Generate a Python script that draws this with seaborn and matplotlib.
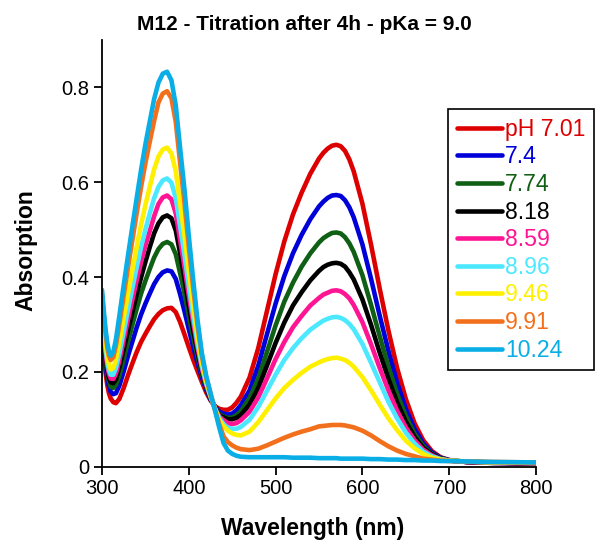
import matplotlib
matplotlib.use("Agg")
import matplotlib.pyplot as plt
import seaborn as sns
import pandas as pd

wavelength = [300, 302, 304, 306, 308, 310, 313, 316,
              320, 325, 330, 335, 340, 345, 350, 355, 360, 365,
              370, 375, 380, 385, 390, 395, 400, 405, 410, 415,
              420, 425, 430, 435, 440, 445, 450, 455, 460,
              470, 480, 490, 500, 510, 520, 530, 540, 550,
              555, 560, 565, 570, 575, 580, 585, 590,
              600, 610, 620, 630, 640, 650, 660, 670, 680, 690, 700,
              720, 750, 800]

ph_701 = [0.280, 0.235, 0.200, 0.173, 0.155, 0.144, 0.136, 0.134,
          0.143, 0.166, 0.193, 0.218, 0.242, 0.263, 0.280, 0.296, 0.311, 0.322,
          0.330, 0.334, 0.335, 0.326, 0.305, 0.279, 0.252, 0.226, 0.202, 0.179,
          0.157, 0.140, 0.128, 0.122, 0.120, 0.120, 0.125, 0.135, 0.148,
          0.188, 0.250, 0.328, 0.406, 0.475, 0.532, 0.578, 0.618, 0.650,
          0.662, 0.671, 0.677, 0.679, 0.676, 0.666, 0.648, 0.623,
          0.555, 0.468, 0.375, 0.287, 0.208, 0.143, 0.092, 0.056, 0.033, 0.020, 0.014,
          0.010, 0.008, 0.006]
ph_74 = [0.295, 0.250, 0.215, 0.187, 0.169, 0.158, 0.153, 0.155,
         0.171, 0.201, 0.234, 0.264, 0.294, 0.321, 0.344, 0.365, 0.385, 0.400,
         0.410, 0.414, 0.412, 0.396, 0.364, 0.328, 0.290, 0.253, 0.219, 0.189,
         0.163, 0.142, 0.127, 0.116, 0.112, 0.110, 0.112, 0.119, 0.130,
         0.161, 0.213, 0.279, 0.344, 0.402, 0.450, 0.489, 0.522, 0.549,
         0.559, 0.567, 0.572, 0.573, 0.571, 0.562, 0.547, 0.526,
         0.469, 0.396, 0.318, 0.244, 0.177, 0.122, 0.080, 0.049, 0.030, 0.019, 0.014,
         0.010, 0.008, 0.007]
ph_774 = [0.306, 0.262, 0.226, 0.198, 0.180, 0.169, 0.166, 0.172,
          0.192, 0.227, 0.264, 0.299, 0.333, 0.365, 0.392, 0.417, 0.441, 0.459,
          0.470, 0.474, 0.469, 0.448, 0.408, 0.365, 0.318, 0.273, 0.232, 0.196,
          0.167, 0.144, 0.126, 0.111, 0.106, 0.103, 0.104, 0.109, 0.117,
          0.145, 0.186, 0.242, 0.298, 0.348, 0.388, 0.422, 0.450, 0.473,
          0.482, 0.488, 0.493, 0.494, 0.492, 0.484, 0.471, 0.453,
          0.404, 0.341, 0.275, 0.211, 0.154, 0.107, 0.070, 0.044, 0.027, 0.018, 0.013,
          0.010, 0.009, 0.007]
ph_818 = [0.315, 0.271, 0.235, 0.206, 0.188, 0.178, 0.176, 0.184,
          0.209, 0.247, 0.288, 0.326, 0.364, 0.399, 0.432, 0.463, 0.492, 0.513,
          0.526, 0.530, 0.524, 0.498, 0.450, 0.398, 0.340, 0.289, 0.243, 0.202,
          0.170, 0.146, 0.125, 0.108, 0.104, 0.100, 0.100, 0.103, 0.109,
          0.131, 0.166, 0.213, 0.261, 0.304, 0.340, 0.368, 0.393, 0.413,
          0.421, 0.426, 0.429, 0.430, 0.428, 0.422, 0.410, 0.395,
          0.353, 0.299, 0.240, 0.185, 0.136, 0.095, 0.063, 0.040, 0.026, 0.017, 0.013,
          0.010, 0.009, 0.007]
ph_859 = [0.323, 0.279, 0.243, 0.214, 0.196, 0.186, 0.185, 0.196,
          0.224, 0.267, 0.311, 0.352, 0.393, 0.432, 0.466, 0.497, 0.528, 0.554,
          0.568, 0.572, 0.564, 0.534, 0.478, 0.421, 0.361, 0.305, 0.252, 0.207,
          0.173, 0.147, 0.124, 0.106, 0.098, 0.092, 0.090, 0.092, 0.098,
          0.116, 0.146, 0.186, 0.227, 0.263, 0.294, 0.318, 0.340, 0.356,
          0.363, 0.367, 0.371, 0.372, 0.370, 0.364, 0.355, 0.341,
          0.305, 0.258, 0.208, 0.161, 0.118, 0.083, 0.056, 0.036, 0.024, 0.016, 0.013,
          0.010, 0.009, 0.007]
ph_896 = [0.331, 0.287, 0.251, 0.222, 0.203, 0.194, 0.194, 0.208,
          0.239, 0.285, 0.332, 0.377, 0.421, 0.463, 0.500, 0.534, 0.566, 0.590,
          0.604, 0.608, 0.599, 0.566, 0.507, 0.447, 0.381, 0.319, 0.261, 0.213,
          0.176, 0.148, 0.124, 0.103, 0.090, 0.082, 0.080, 0.080, 0.084,
          0.099, 0.126, 0.160, 0.194, 0.225, 0.250, 0.271, 0.289, 0.302,
          0.308, 0.312, 0.315, 0.316, 0.314, 0.309, 0.301, 0.290,
          0.259, 0.219, 0.178, 0.137, 0.102, 0.072, 0.049, 0.032, 0.022, 0.016, 0.013,
          0.011, 0.009, 0.008]
ph_946 = [0.343, 0.300, 0.263, 0.234, 0.215, 0.205, 0.208, 0.225,
          0.262, 0.314, 0.365, 0.415, 0.463, 0.510, 0.552, 0.590, 0.627, 0.654,
          0.669, 0.673, 0.661, 0.623, 0.555, 0.487, 0.412, 0.341, 0.275, 0.221,
          0.181, 0.150, 0.123, 0.098, 0.085, 0.076, 0.070, 0.067, 0.066,
          0.074, 0.094, 0.119, 0.144, 0.166, 0.183, 0.198, 0.211, 0.220,
          0.224, 0.227, 0.229, 0.230, 0.228, 0.225, 0.219, 0.211,
          0.189, 0.161, 0.131, 0.102, 0.077, 0.055, 0.039, 0.027, 0.019, 0.015, 0.013,
          0.011, 0.009, 0.008]
ph_991 = [0.364, 0.321, 0.283, 0.253, 0.234, 0.225, 0.231, 0.255,
          0.301, 0.361, 0.421, 0.478, 0.535, 0.590, 0.640, 0.685, 0.729, 0.768,
          0.787, 0.792, 0.777, 0.727, 0.640, 0.556, 0.464, 0.378, 0.299, 0.234,
          0.189, 0.154, 0.121, 0.090, 0.064, 0.052, 0.045, 0.040, 0.037,
          0.035, 0.038, 0.045, 0.053, 0.061, 0.068, 0.074, 0.079, 0.085,
          0.086, 0.087, 0.088, 0.088, 0.088, 0.087, 0.085, 0.083,
          0.076, 0.066, 0.054, 0.043, 0.034, 0.027, 0.022, 0.017, 0.015, 0.013, 0.012,
          0.011, 0.010, 0.009]
ph_1024 = [0.373, 0.330, 0.292, 0.262, 0.243, 0.234, 0.242, 0.268,
           0.318, 0.383, 0.446, 0.507, 0.567, 0.626, 0.680, 0.728, 0.775, 0.810,
           0.829, 0.833, 0.815, 0.762, 0.672, 0.585, 0.487, 0.395, 0.310, 0.240,
           0.192, 0.155, 0.120, 0.083, 0.050, 0.034, 0.027, 0.023, 0.021,
           0.020, 0.020, 0.020, 0.020, 0.020, 0.019, 0.019, 0.019, 0.018,
           0.018, 0.018, 0.018, 0.018, 0.017, 0.017, 0.017, 0.017,
           0.017, 0.016, 0.016, 0.015, 0.015, 0.014, 0.014, 0.013, 0.013, 0.012, 0.012,
           0.011, 0.010, 0.009]

labels = ["pH 7.01", "7.4", "7.74", "8.18", "8.59", "8.96", "9.46", "9.91", "10.24"]
series = [ph_701, ph_74, ph_774, ph_818, ph_859, ph_896, ph_946, ph_991, ph_1024]
colors = ["#dd0000", "#0000d8", "#0f5f14", "#000000", "#ff1493", "#4ce8ff", "#fff000", "#f2701c", "#0aaee6"]

rows = []
for lab, vals in zip(labels, series):
    for w, v in zip(wavelength, vals):
        rows.append({"Wavelength": w, "Absorption": v, "pH": lab})
df = pd.DataFrame(rows)

sns.set_theme(style="white")
plt.rcParams["font.family"] = ["Liberation Sans", "DejaVu Sans"]

fig = plt.figure(figsize=(5.98, 5.41), dpi=100)
ax = fig.add_axes([102 / 598, 1 - 466.7 / 541, (536 - 102) / 598, (466.7 - 40) / 541])

sns.lineplot(data=df, x="Wavelength", y="Absorption", hue="pH", hue_order=labels,
             palette=dict(zip(labels, colors)), estimator=None, sort=False,
             linewidth=3.3, ax=ax, legend=False)
for ln in ax.get_lines():
    ln.set_solid_joinstyle("round")
    ln.set_solid_capstyle("round")

ax.set_xlim(300, 800)
ax.set_ylim(0, 0.9)
ax.set_xticks([300, 400, 500, 600, 700, 800])
ax.set_yticks([0, 0.2, 0.4, 0.6, 0.8])
ax.set_yticklabels(["0", "0.2", "0.4", "0.6", "0.8"])
for s in ["top", "right"]:
    ax.spines[s].set_visible(False)
for s in ["left", "bottom"]:
    ax.spines[s].set_color("black")
    ax.spines[s].set_linewidth(1.3)
ax.tick_params(axis="both", direction="out", length=6, width=1.3, color="black",
               labelsize=14.5, labelcolor="black", bottom=True, left=True, pad=3)
ax.set_xlabel("Wavelength (nm)", fontsize=16.5, fontweight="bold", color="black")
ax.set_ylabel("Absorption", fontsize=16.5, fontweight="bold", color="black")
ax.xaxis.set_label_coords(0.485, -0.118)
ax.yaxis.set_label_coords(-0.148, 0.508)

fig.text(304 / 598, 1 - 25 / 541, "M12 - Titration after 4h - pKa = 9.0",
         ha="center", va="center", fontsize=15, fontweight="bold", color="black")

handles = ax.get_lines()[:len(labels)]
leg = fig.legend(handles, labels, loc="upper left", bbox_to_anchor=(448 / 598, 1 - 109 / 541),
                 bbox_transform=fig.transFigure, fontsize=16.6, frameon=True, fancybox=False,
                 framealpha=1, edgecolor="black", handlelength=1.95, handletextpad=0.14,
                 labelspacing=0.2, borderpad=0.38, borderaxespad=0)
leg.get_frame().set_linewidth(1.2)
for t, c in zip(leg.get_texts(), colors):
    t.set_color(c)

fig.savefig("out.png", dpi=100)
